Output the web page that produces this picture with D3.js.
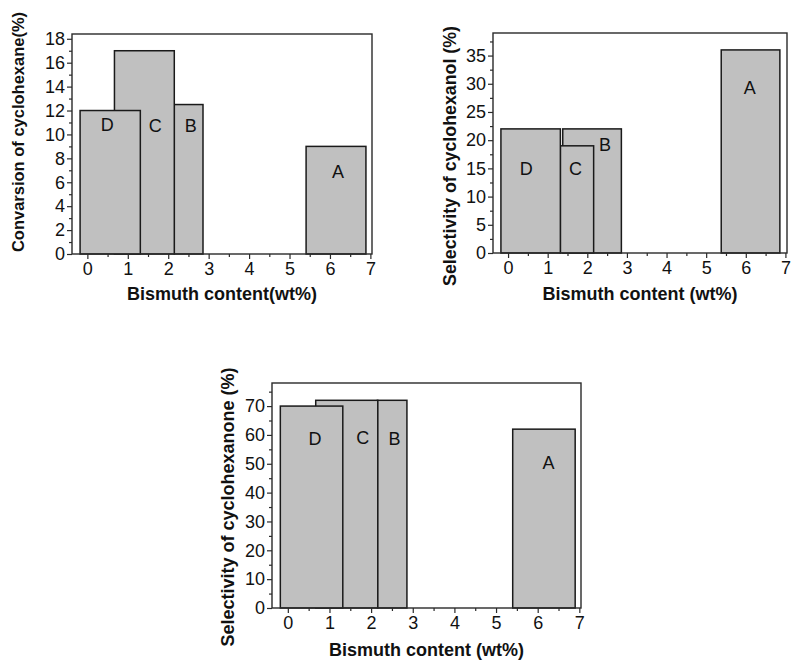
<!DOCTYPE html>
<html>
<head>
<meta charset="utf-8">
<script src="https://cdn.jsdelivr.net/npm/d3@7"></script>
<style>
  body { margin: 0; background: #fff; }
  svg { display: block; }
  text { font-family: "Liberation Sans", Arial, sans-serif; fill: #111; }
</style>
</head>
<body>
<svg id="chart" width="793" height="661"></svg>
<script>
// ---- data ----
const samples = ["A", "B", "C", "D"];              // draw order (D on top)
// bar extents along Bismuth content axis (wt%)
const barStart = {
  p1: [5.41, 2.15, 0.67, -0.18],
  p2: [5.38, 1.38, 1.32, -0.18],
  p3: [5.40, 2.15, 0.67, -0.18]
};
const barEnd = {
  p1: [6.89, 2.86, 2.15, 1.31],
  p2: [6.86, 2.86, 2.16, 1.32],
  p3: [6.90, 2.86, 2.16, 1.32]
};
const conversion   = [9, 12.5, 17, 12];   // Convarsion of cyclohexane (%)
const selAnol      = [36, 22, 19, 22];    // Selectivity of cyclohexanol (%)
const selAnone     = [62, 72, 72, 70];    // Selectivity of cyclohexanone (%)
// label anchor positions (x in wt%, y in value units)
const labelX = { p1: [6.2, 2.56, 1.68, 0.49], p2: [6.1, 2.45, 1.7, 0.46], p3: [6.26, 2.56, 1.8, 0.65] };
const labelY = { p1: [6.9, 10.7, 10.7, 10.8], p2: [29.2, 19.2, 14.9, 14.9], p3: [50.4, 58.5, 58.9, 58.5] };
const xTicks = [0, 1, 2, 3, 4, 5, 6, 7];
const yTicks1 = [0, 2, 4, 6, 8, 10, 12, 14, 16, 18];
const yTicks2 = [0, 5, 10, 15, 20, 25, 30, 35];
const yTicks3 = [0, 10, 20, 30, 40, 50, 60, 70];

const panels = [
  { key: "p1", values: conversion, yMax: 18.4, yTicks: yTicks1, yMinorStep: 1,
    yTitle: "Convarsion of cyclohexane(%)", xTitle: "Bismuth content(wt%)", yTitleSize: 16.5,
    box: { left: 72, top: 34, width: 300, height: 220 }, yTitlePos: [18, 132], xTitleY: 300 },
  { key: "p2", values: selAnol, yMax: 39, yTicks: yTicks2, yMinorStep: 2.5,
    yTitle: "Selectivity of cyclohexanol (%)", xTitle: "Bismuth content (wt%)", yTitleSize: 17.8,
    box: { left: 493, top: 33, width: 294, height: 220 }, yTitlePos: [450, 156], xTitleY: 300 },
  { key: "p3", values: selAnone, yMax: 78, yTicks: yTicks3, yMinorStep: 5,
    yTitle: "Selectivity of cyclohexanone (%)", xTitle: "Bismuth content (wt%)", yTitleSize: 18,
    box: { left: 272, top: 383, width: 309, height: 225 }, yTitlePos: [228, 507], xTitleY: 656 }
];

const svg = d3.select("#chart");
const axisColor = "#2a2a2a";

panels.forEach(p => {
  const b = p.box;
  const g = svg.append("g").attr("transform", `translate(${b.left},${b.top})`);
  const x = d3.scaleLinear().domain([-0.38, 7.04]).range([0, b.width]);
  const y = d3.scaleLinear().domain([0, p.yMax]).range([b.height, 0]);

  // bars
  samples.forEach((s, i) => {
    const x0 = x(barStart[p.key][i]), x1 = x(barEnd[p.key][i]);
    g.append("rect")
      .attr("x", x0).attr("width", x1 - x0)
      .attr("y", y(p.values[i])).attr("height", y(0) - y(p.values[i]))
      .attr("fill", "#c0c0c0").attr("stroke", "#1a1a1a").attr("stroke-width", 1.5);
    g.append("text")
      .attr("x", x(labelX[p.key][i])).attr("y", y(labelY[p.key][i]))
      .attr("text-anchor", "middle").attr("dominant-baseline", "central")
      .style("font-size", "18px").text(s);
  });

  // frame
  g.append("rect").attr("x", 0).attr("y", 0).attr("width", b.width).attr("height", b.height)
    .attr("fill", "none").attr("stroke", axisColor).attr("stroke-width", 1.4);

  // x axis
  const xAxis = d3.axisBottom(x).tickValues(xTicks).tickSize(5).tickPadding(3).tickFormat(d3.format("d"));
  const xa = g.append("g").attr("transform", `translate(0,${b.height})`).call(xAxis);
  const xMinor = d3.axisBottom(x).tickValues(xTicks.slice(0, -1).map(v => v + 0.5)).tickSize(3).tickFormat("");
  const xm = g.append("g").attr("transform", `translate(0,${b.height})`).call(xMinor);

  // y axis
  const yAxis = d3.axisLeft(y).tickValues(p.yTicks).tickSize(5).tickPadding(2).tickFormat(d3.format("d"));
  const ya = g.append("g").call(yAxis);
  const minorVals = d3.range(p.yMinorStep, p.yMax, p.yMinorStep * 2);
  const ym = g.append("g").call(d3.axisLeft(y).tickValues(minorVals).tickSize(3).tickFormat(""));

  [xa, xm, ya, ym].forEach(a => {
    a.select(".domain").remove();
    a.selectAll("line").attr("stroke", axisColor).attr("stroke-width", 1.2);
    a.selectAll("text").style("font-size", "18px").attr("fill", "#111")
      .style("font-family", '"Liberation Sans", Arial, sans-serif');
  });

  // titles
  svg.append("text")
    .attr("x", b.left + b.width / 2).attr("y", p.xTitleY)
    .attr("text-anchor", "middle").style("font-size", "18px").style("font-weight", "bold")
    .text(p.xTitle);
  svg.append("text")
    .attr("transform", `translate(${p.yTitlePos[0]},${p.yTitlePos[1]}) rotate(-90)`)
    .attr("text-anchor", "middle").attr("dominant-baseline", "central")
    .style("font-size", p.yTitleSize + "px").style("font-weight", "bold")
    .text(p.yTitle);
});
</script>
</body>
</html>
